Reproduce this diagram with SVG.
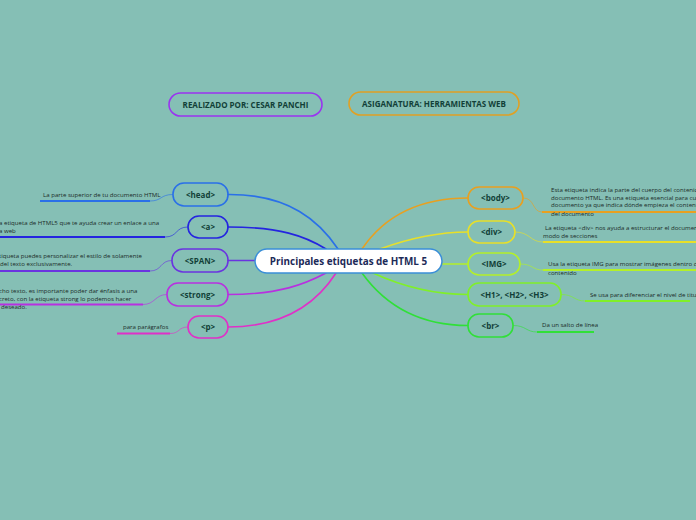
<svg xmlns="http://www.w3.org/2000/svg" width="696" height="520" viewBox="0 0 696 520">
<style>
.nb{fill:none;stroke-width:1.6}
.nt{font-family:"Open Sans","Noto Sans",sans-serif;font-weight:bold;font-size:8px;fill:#123f38;text-anchor:middle}
.lt{font-family:"Open Sans","Noto Sans",sans-serif;font-size:6.1px;fill:#1b2b28}
.c{fill:none;stroke-width:1.6;stroke-linecap:round}
.s{fill:none;stroke-width:0.9;opacity:0.7}
.u{fill:none;stroke-width:2}
</style>
<rect width="696" height="520" fill="#85bfb5"/>
<g id="connectors">
<path class="c" d="M228,194.5 C290,194 320,222 338,249" stroke="#2a70e8"/>
<path class="c" d="M228,227 C280,227 305,236 326,249" stroke="#2424e0"/>
<path class="c" d="M228,260.5 L255,260.5" stroke="#6a34e0"/>
<path class="c" d="M228,294.5 C280,294.5 305,284 326,273" stroke="#b830e0"/>
<path class="c" d="M228,327 C290,327 320,298 336,273" stroke="#e030c8"/>
<path class="c" d="M362,249 C385,215 420,198 468,198" stroke="#e8a020"/>
<path class="c" d="M380,249 C410,238 440,232 468,232" stroke="#e8e028"/>
<path class="c" d="M442,264 L468,264" stroke="#b4f028"/>
<path class="c" d="M373,273 C410,290 440,294.5 468,294.5" stroke="#80f028"/>
<path class="c" d="M362,273 C385,305 420,325.5 468,325.5" stroke="#30e038"/>
<path class="s" d="M173,194.5 C160,194.5 162,201 150,201" stroke="#2a70e8"/>
<path class="u" d="M150,201 L40,201" stroke="#2a70e8"/>
<path class="s" d="M188,227 C175,227 178,237 165,237" stroke="#2424e0"/>
<path class="u" d="M165,237 L0,237" stroke="#2424e0"/>
<path class="s" d="M172,260.5 C160,260.5 162,271 150,271" stroke="#6a34e0"/>
<path class="u" d="M150,271 L0,271" stroke="#6a34e0"/>
<path class="s" d="M167,294.5 C155,294.5 155,304.5 143,304.5" stroke="#b830e0"/>
<path class="u" d="M143,304.5 L0,304.5" stroke="#b830e0"/>
<path class="s" d="M188,327 C178,327 180,333.5 170,333.5" stroke="#e030c8"/>
<path class="u" d="M170,333.5 L117,333.5" stroke="#e030c8"/>
<path class="s" d="M523,198 C535,198 532,212 542,212" stroke="#e8a020"/>
<path class="u" d="M542,212 L696,212" stroke="#e8a020"/>
<path class="s" d="M515,232 C530,232 530,242 543,242" stroke="#e8e028"/>
<path class="u" d="M543,242 L696,242" stroke="#e8e028"/>
<path class="s" d="M520,264 C533,264 532,270 543,270" stroke="#b4f028"/>
<path class="u" d="M543,270 L696,270" stroke="#b4f028"/>
<path class="s" d="M561,294.5 C574,294.5 574,301 585,301" stroke="#80f028"/>
<path class="u" d="M585,301 L690,301" stroke="#80f028"/>
<path class="s" d="M513,325.5 C526,325.5 526,332 537,332" stroke="#30e038"/>
<path class="u" d="M537,332 L594,332" stroke="#30e038"/>
</g>
<g id="realizado"><rect class="nb" x="169" y="93" width="153" height="23" rx="11.5" stroke="#9a34f0"/><text class="nt" x="245.5" y="107.5" font-size="7.5">REALIZADO POR: CESAR PANCHI</text></g>
<g id="asignatura"><rect class="nb" x="349" y="92" width="170" height="23" rx="11.5" stroke="#e0a024"/><text class="nt" x="434" y="106.5" font-size="7.5">ASIGANATURA: HERRAMIENTAS WEB</text></g>
<g id="center"><rect x="255" y="249" width="187" height="24" rx="12" fill="#ffffff" stroke="#3a8ed8" stroke-width="1.5"/><text x="348.5" y="264.5" font-family="'Open Sans','Noto Sans',sans-serif" font-weight="bold" font-size="9.9" fill="#1c2a58" text-anchor="middle">Principales etiquetas de HTML 5</text></g>
<g id="head"><rect class="nb" x="173" y="183" width="55" height="23" rx="11" stroke="#2a70e8"/><text class="nt" x="200.5" y="197.5">&lt;head&gt;</text>
<text class="lt" x="43" y="197">La parte superior de tu documento HTML</text></g>
<g id="a"><rect class="nb" x="188" y="216" width="40" height="22" rx="11" stroke="#2424e0"/><text class="nt" x="208" y="230">&lt;a&gt;</text>
<text class="lt" x="-1" y="224.5">a etiqueta de HTML5 que te ayuda crear un enlace a una</text><text class="lt" x="-1" y="233">a web</text></g>
<g id="span"><rect class="nb" x="172" y="249" width="56" height="23" rx="11" stroke="#6a34e0"/><text class="nt" x="200" y="263.5">&lt;SPAN&gt;</text>
<text class="lt" x="-1" y="257.5">tiqueta puedes personalizar el estilo de solamente</text><text class="lt" x="0" y="266">del texto exclusivamente.</text></g>
<g id="strong"><rect class="nb" x="167" y="283" width="61" height="23" rx="11" stroke="#b830e0"/><text class="nt" x="197.5" y="297.5">&lt;strong&gt;</text>
<text class="lt" x="-1" y="292.5">cho texto, es importante poder dar énfasis a una</text><text class="lt" x="-1" y="301">creto, con la etiqueta strong lo podemos hacer</text><text class="lt" x="1" y="309">deseado.</text></g>
<g id="p"><rect class="nb" x="188" y="316" width="40" height="22" rx="11" stroke="#e030c8"/><text class="nt" x="208" y="330">&lt;p&gt;</text>
<text class="lt" x="123" y="329">para parágrafos</text></g>
<g id="body"><rect class="nb" x="468" y="187" width="55" height="22" rx="11" stroke="#e8a020"/><text class="nt" x="495.5" y="201">&lt;body&gt;</text>
<text class="lt" x="551" y="192">Esta etiqueta indica la parte del cuerpo del contenido</text><text class="lt" x="551" y="199.5">documento HTML. Es una etiqueta esencial para cua</text><text class="lt" x="551" y="207">documento ya que indica dónde empieza el contenid</text><text class="lt" x="551" y="215.5">del documento</text></g>
<g id="div"><rect class="nb" x="468" y="221" width="47" height="22" rx="11" stroke="#e8e028"/><text class="nt" x="491.5" y="235">&lt;div&gt;</text>
<text class="lt" x="545" y="229.5">La etiqueta &lt;div&gt; nos ayuda a estructurar el documento</text><text class="lt" x="543" y="238">modo de secciones</text></g>
<g id="img"><rect class="nb" x="468" y="253" width="52" height="22" rx="11" stroke="#b4f028"/><text class="nt" x="494" y="267">&lt;IMG&gt;</text>
<text class="lt" x="548" y="265.5">Usa la etiqueta IMG para mostrar imágenes dentro d</text><text class="lt" x="548" y="274.5">contenido</text></g>
<g id="h1"><rect class="nb" x="468" y="283" width="93" height="23" rx="11" stroke="#80f028"/><text class="nt" x="514.5" y="297.5">&lt;H1&gt;, &lt;H2&gt;, &lt;H3&gt;</text>
<text class="lt" x="590" y="296.5">Se usa para diferenciar el nivel de titul</text></g>
<g id="br"><rect class="nb" x="468" y="314" width="45" height="23" rx="11" stroke="#30e038"/><text class="nt" x="490.5" y="328.5">&lt;br&gt;</text>
<text class="lt" x="542" y="326.5">Da un salto de línea</text></g>
</svg>
